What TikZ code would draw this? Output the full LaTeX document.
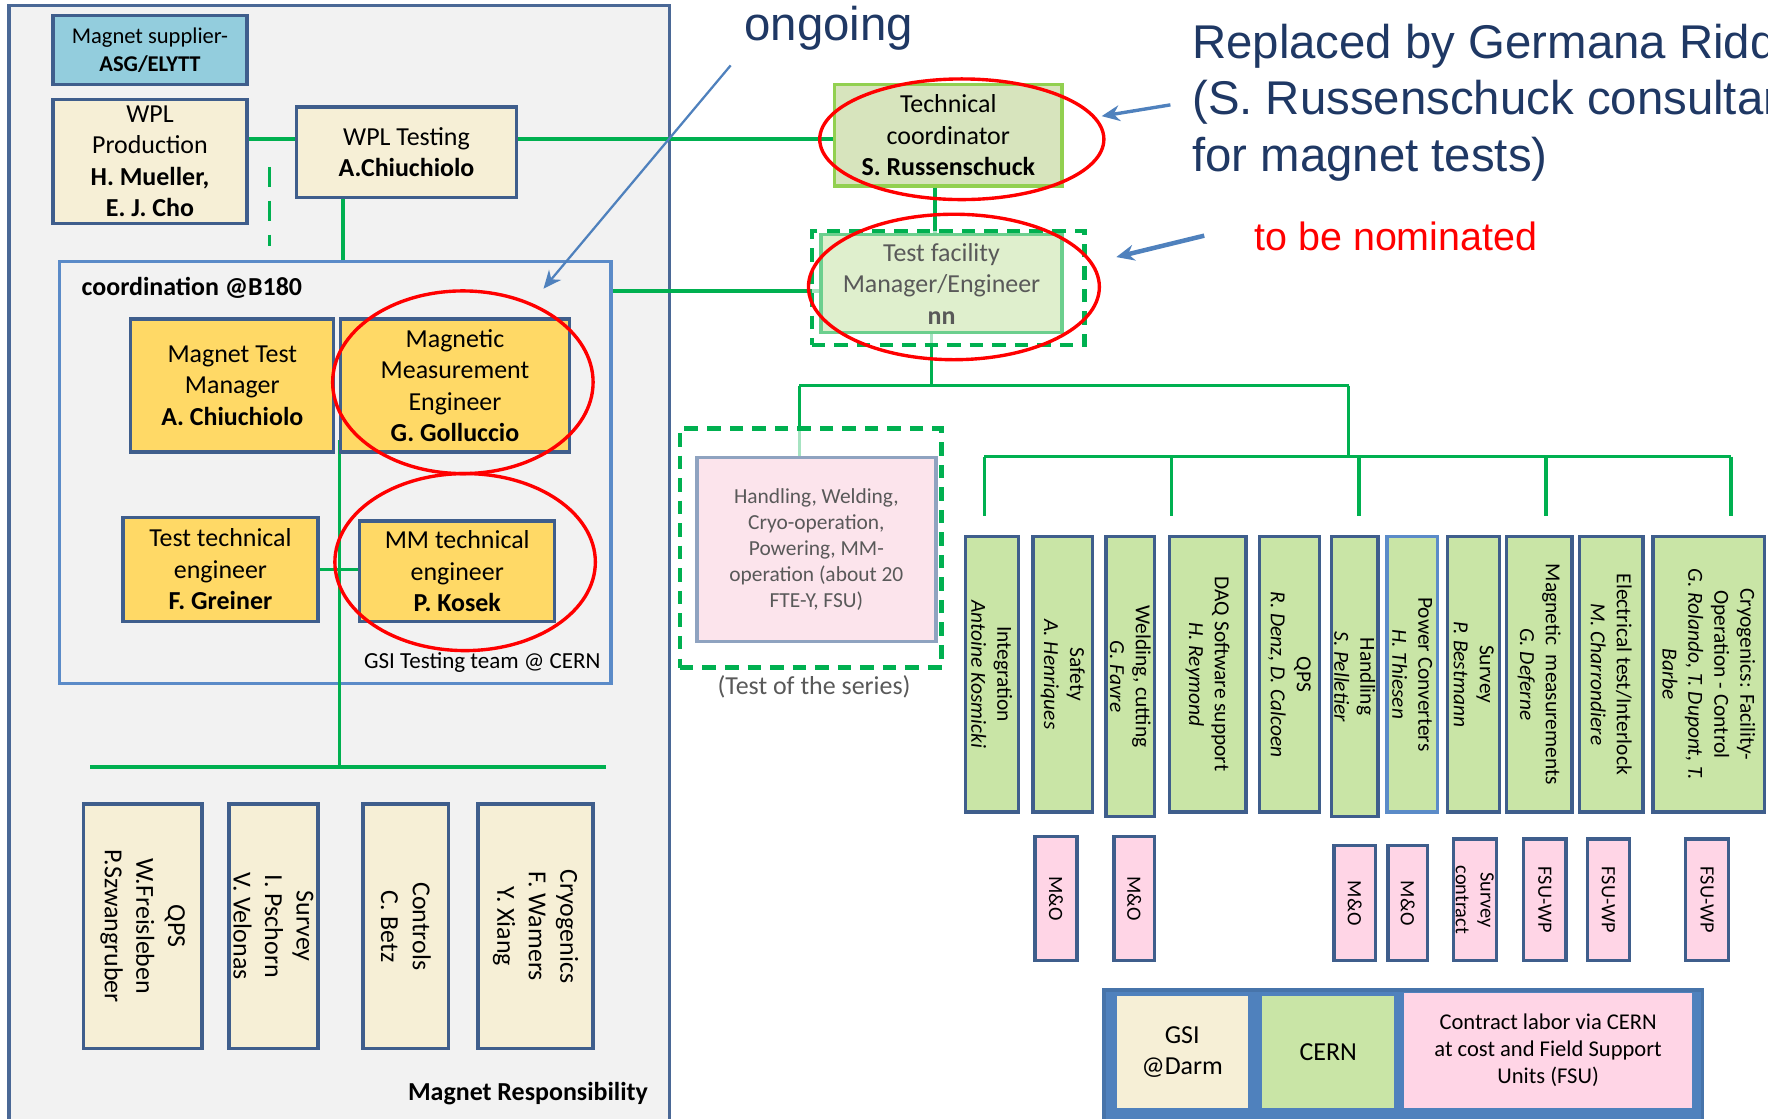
\documentclass[tikz,border=0pt]{standalone}
\usepackage{fontspec}
\setmainfont{Carlito}
\newfontfamily\arialf{Liberation Sans}
\usetikzlibrary{arrows.meta,calc}
\definecolor{bxb}{HTML}{3F5E8C}
\definecolor{outerb}{HTML}{4A6896}
\definecolor{bgg}{HTML}{F2F2F2}
\definecolor{creamc}{HTML}{F6EFD6}
\definecolor{goldc}{HTML}{FFD966}
\definecolor{skyc}{HTML}{93CDDD}
\definecolor{gline}{HTML}{00B050}
\definecolor{olivec}{HTML}{D7E4BD}
\definecolor{lgreen}{HTML}{92D050}
\definecolor{colg}{HTML}{C9E5A6}
\definecolor{pinkc}{HTML}{FFD5E6}
\definecolor{pinkl}{HTML}{FCE4EC}
\definecolor{pinkbd}{HTML}{8FA3C0}
\definecolor{midblue}{HTML}{4F81BD}
\definecolor{coordb}{HTML}{5B8BC8}
\definecolor{navy}{HTML}{1F3864}
\definecolor{grayt}{HTML}{595959}
\definecolor{tff}{HTML}{DFEFCD}
\definecolor{tfb}{HTML}{6CCF8E}
\newcommand\colbox[6]{%
  \node[colb, minimum width=#4, minimum height=#5] (#1) at (#2,#3) {};
  \node[coltxt, rotate=-90] (#1t) at (#1.center) {#6};}
\newcommand\pinkbox[6]{%
  \node[pinkb, minimum width=#4, minimum height=#5] (#1) at (#2,#3) {};
  \node[pinktxt, rotate=-90] (#1t) at (#1.center) {#6};}
\newcommand\creamcol[6]{%
  \node[creambox, minimum width=#4, minimum height=#5] (#1) at (#2,#3) {};
  \node[rottxt, rotate=-90] (#1t) at (#1.center) {#6};}
\begin{document}
\begin{tikzpicture}[x=0.5pt,y=-0.5pt,
  box/.style={draw=bxb,line width=1.5pt,inner sep=0pt,align=center,font=\fontsize{11.5}{14}\selectfont},
  creambox/.style={box,fill=creamc},
  goldbox/.style={box,fill=goldc},
  gl/.style={draw=gline,line width=1.6pt},
  colb/.style={draw=bxb,line width=1.5pt,fill=colg,inner sep=0pt},
  coltxt/.style={align=center,inner sep=0pt,font=\fontsize{9.5}{11.5}\selectfont},
  rottxt/.style={align=center,inner sep=0pt,font=\fontsize{11.5}{14}\selectfont},
  pinkb/.style={draw=bxb,line width=1.5pt,fill=pinkc,inner sep=0pt},
  pinktxt/.style={align=center,inner sep=0pt,font=\fontsize{9}{11}\selectfont},
  redell/.style={draw=red,line width=1.5pt},
  barrow/.style={draw=midblue,-{Stealth[length=8pt,width=7pt]}},
  gdash/.style={draw=gline,line width=2pt,dash pattern=on 6pt off 4pt},
  lbl/.style={inner sep=0pt,font=\fontsize{11.5}{14}\selectfont},
  annot/.style={inner sep=0pt,text=navy,font=\arialf\fontsize{21}{25}\selectfont},
]
\useasboundingbox (0,0) rectangle (1568,992);
\fill[white] (0,0) rectangle (1568,992);
% containers
\draw[fill=bgg,draw=outerb,line width=1.5pt] (8,5) rectangle (594,1010);
\draw[fill=midblue,draw=midblue!90!black,line width=1.5pt] (979,878) rectangle (1510,1010);
\node[draw=coordb,fill=bgg,line width=1.5pt,minimum width=244.5pt,minimum height=187pt,inner sep=0pt] (coord) at (297.5,419) {};

% left nodes
\node[box,fill=skyc,minimum width=86pt,minimum height=30.5pt,font=\fontsize{10}{12}\selectfont] (sup) at (133,44.5) {Magnet supplier-\\\textbf{ASG/ELYTT}};
\node[creambox,minimum width=86pt,minimum height=55pt] (wplp) at (133,143) {WPL\\Production\\\textbf{H. Mueller,}\\\textbf{E. J. Cho}};
\node[creambox,minimum width=97.5pt,minimum height=40pt] (wplt) at (360.5,135) {WPL Testing\\\textbf{A.Chiuchiolo}};

% coordinates for connectors
\coordinate (l1) at ([yshift=6pt]wplt.west);
\coordinate (v1) at (304,0);
\coordinate (ib) at (301,390);
\coordinate (hb) at (301,680);
\coordinate (hbl) at (80,680);
\coordinate (hbr) at (537,680);
\coordinate (dt) at (239,148);
\coordinate (db) at (239,218);
\coordinate (v2) at (0,258);
\coordinate (v3) at (829,0);
\coordinate (v4) at (826,342);
\coordinate (hl) at (709,342);
\coordinate (hr) at (1196,342);
\coordinate (hr2) at (1196,405);
\coordinate (tl) at (873,405);
\coordinate (tr) at (1535,405);

% green connectors (left)
\draw[gl] (wplp.east |- l1) -- (l1);
\draw[gl] (wplt.south -| v1) -- (coord.north -| v1);
\draw[gl] (ib) -- (hb);
\draw[gl] (hbl) -- (hbr);
\draw[draw=gline,line width=1.6pt,dash pattern=on 9pt off 6pt] (dt) -- (db);

% coordination contents
\node[lbl,anchor=west,font=\bfseries\fontsize{11.5}{14}\selectfont] (coordl) at (72,255) {coordination @B180};
\node[lbl,anchor=east,font=\fontsize{10.2}{12}\selectfont] (gsil) at (533,588) {GSI Testing team @ CERN};
\node[goldbox,minimum width=90pt,minimum height=59pt] (mtm) at (206,342) {Magnet Test\\Manager\\\textbf{A. Chiuchiolo}};
\node[goldbox,minimum width=101.5pt,minimum height=59pt] (mme) at (403.5,342) {Magnetic\\Measurement\\Engineer\\\textbf{G. Golluccio}};
\node[goldbox,minimum width=86.5pt,minimum height=46pt] (tte) at (195.5,505) {Test technical\\engineer\\\textbf{F. Greiner}};
\node[goldbox,minimum width=86.5pt,minimum height=44.5pt] (mmt) at (405.5,506.5) {MM technical\\engineer\\\textbf{P. Kosek}};
\draw[gl] (tte.east) -- (mmt.west |- tte.east);

% bottom-left cream boxes
\creamcol{bqps}{126.5}{821.5}{52.5pt}{108.5pt}{QPS\\W.Freisleben\\P.Szwangruber}
\creamcol{bsurv}{242.5}{821.5}{39.5pt}{108.5pt}{Survey\\I. Pschorn\\V. Velonas}
\creamcol{bctrl}{360}{821.5}{38pt}{108.5pt}{Controls\\C. Betz}
\creamcol{bcryo}{475}{821.5}{51pt}{108.5pt}{Cryogenics\\F. Wamers\\Y. Xiang}
\node[lbl,anchor=east,font=\bfseries\fontsize{11.5}{14}\selectfont] (magresp) at (575,970) {Magnet Responsibility};

% technical coordinator & test facility
\node[box,draw=lgreen,fill=olivec,minimum width=101pt,minimum height=45pt] (tc) at (841,120) {Technical\\coordinator\\\textbf{S. Russenschuck}};
\draw[gl] (wplt.east |- l1) -- (tc.west |- l1);
\draw[gl] (coord.east |- v2) -- (728,258);
\draw[gl] (tc.south -| v3) -- (829,208);
\draw[gl] (826,295) -- (v4);
\draw[gl] (hl) -- (hr);
\draw[gl] (hl) -- (709,406);
\draw[gl] (hr) -- (hr2);
\draw[gl] (tl) -- (tr);
\foreach \xx in {873,1039,1205,1371,1535}{\draw[gl] (\xx,405) -- (\xx,458);}

\node[gdash,fill=white,fill opacity=0.65,minimum width=121pt,minimum height=50.5pt,inner sep=0pt] (tfo) at (841,255.5) {};
\node[box,draw=tfb,fill=tff,text=grayt,minimum width=107pt,minimum height=43.5pt] (tfi) at (835,251.5) {Test facility\\Manager/Engineer\\\textbf{nn}};

\node[gdash,fill=white,fill opacity=0.65,minimum width=116pt,minimum height=106pt,inner sep=0pt] (tsd) at (719,486) {};
\node[draw=pinkbd,line width=1.5pt,fill=pinkl,text=grayt,align=center,inner sep=0pt,minimum width=106pt,minimum height=81.5pt,font=\fontsize{9.5}{11.5}\selectfont] (tser) at (724,487.5) {Handling, Welding,\\Cryo-operation,\\Powering, MM-\\operation (about 20\\FTE-Y, FSU)};
\node[lbl,text=grayt] (tserl) at (722,609) {(Test of the series)};

% green columns
\colbox{intg}{879.5}{598}{23.5pt}{122pt}{Integration\\\textit{Antoine Kosmicki}}
\colbox{safe}{942.5}{598}{26.5pt}{122pt}{Safety\\\textit{A. Henriques}}
\colbox{weld}{1002.5}{600}{21.5pt}{124pt}{Welding, cutting\\\textit{G. Favre}}
\colbox{daq}{1071}{598}{34pt}{122pt}{DAQ Software support\\\textit{H. Reymond}}
\colbox{cqps}{1143.5}{598}{26.5pt}{122pt}{QPS\\\textit{R. Denz, D. Calcoen}}
\colbox{hand}{1201.5}{600}{20.5pt}{124pt}{Handling\\\textit{S. Pelletier}}
\node[colb,draw=coordb,minimum width=22.5pt,minimum height=122pt] (powc) at (1252.5,598) {};
\node[coltxt,rotate=-90] (powct) at (powc.center) {Power Converters\\\textit{H. Thiesen}};
\colbox{csurv}{1307}{598}{23pt}{122pt}{Survey\\\textit{P. Bestmann}}
\colbox{magm}{1365}{598}{29pt}{122pt}{Magnetic\ \ measurements\\\textit{G. Deferne}}
\colbox{elec}{1429}{598}{28pt}{122pt}{Electrical test/Interlock\\\textit{M. Charrondiere}}
\colbox{ccryo}{1515.5}{598}{49.5pt}{122pt}{Cryogenics: Facility-\\Operation - Control\\\textit{G. Rolando, T. Dupont, T.}\\\textit{Barbe}}

% pink small boxes
\pinkbox{mo1}{936.5}{797}{18.5pt}{55pt}{M\&O}
\pinkbox{mo2}{1006}{797}{18pt}{55pt}{M\&O}
\pinkbox{mo3}{1201.5}{801}{18.5pt}{51pt}{M\&O}
\pinkbox{mo4}{1248.5}{801}{17.5pt}{51pt}{M\&O}
\pinkbox{svc}{1308}{798}{19pt}{54pt}{Survey\\contract}
\pinkbox{fsu1}{1370}{798}{19pt}{54pt}{FSU-WP}
\pinkbox{fsu2}{1426.5}{798}{18.5pt}{54pt}{FSU-WP}
\pinkbox{fsu3}{1514}{798}{19pt}{54pt}{FSU-WP}

% legend
\node[draw=midblue,fill=creamc,align=center,inner sep=0pt,minimum width=58.5pt,minimum height=50pt,font=\fontsize{11.5}{14}\selectfont] (lgsi) at (1048.5,933) {GSI\\@Darm};
\node[draw=midblue,fill=colg,align=center,inner sep=0pt,minimum width=59pt,minimum height=50pt,font=\fontsize{11.5}{14}\selectfont] (lcern) at (1178,933) {CERN};
\node[draw=midblue,fill=pinkc,align=center,inner sep=0pt,minimum width=128pt,minimum height=51.5pt,font=\fontsize{10}{12}\selectfont] (lcon) at (1373,931.5) {Contract labor via CERN\\at cost and Field Support\\Units (FSU)};

% red ellipses
\draw[redell] (853,123.5) ellipse [x radius=63pt, y radius=26.75pt];
\draw[redell] (846,254.5) ellipse [x radius=64.5pt, y radius=32.25pt];
\draw[redell] (410.5,339) ellipse [x radius=57.75pt, y radius=40.5pt];
\draw[redell] (412.5,498.5) ellipse [x radius=57.75pt, y radius=39.25pt];

% annotations
\node[annot,anchor=base] (ongoing) at (735,36) {ongoing};
\coordinate (oa) at (648,58);
\coordinate (ob) at (482,256);
\draw[barrow,line width=1pt] (oa) -- (ob);
\begin{scope}
\clip (0,0) rectangle (1568,992);
\node[annot,anchor=north west,align=left] (repl) at (1057,21) {Replaced by Germana Riddone\\(S. Russenschuck consultant\\for magnet tests)};
\end{scope}
\coordinate (ra) at (1038,93);
\coordinate (rb) at (977,103);
\draw[barrow,line width=1.5pt] (ra) -- (rb);
\node[inner sep=0pt,text=red,anchor=base,font=\arialf\fontsize{17.5}{20}\selectfont] (nomin) at (1238,222) {to be nominated};
\coordinate (na) at (1068,209);
\coordinate (nb) at (990,228);
\draw[barrow,line width=2pt] (na) -- (nb);
\end{tikzpicture}
\end{document}
